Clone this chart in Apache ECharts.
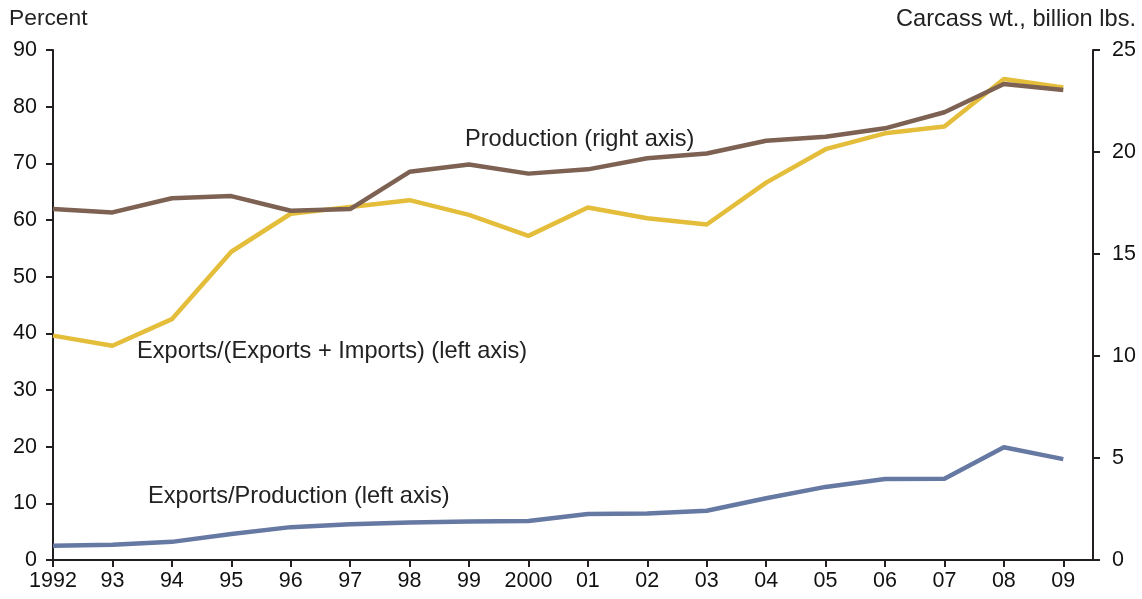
<!DOCTYPE html>
<html>
<head>
<meta charset="utf-8">
<script src="https://cdn.jsdelivr.net/npm/echarts@6/dist/echarts.min.js"></script>
<style>
html,body{margin:0;padding:0;background:#fff;}
#c{width:1142px;height:599px;}
</style>
</head>
<body>
<div id="c"></div>
<script>
const years = [1992,1993,1994,1995,1996,1997,1998,1999,2000,2001,2002,2003,2004,2005,2006,2007,2008,2009];
const exportShare = [39.6,37.8,42.5,54.4,61.1,62.3,63.5,60.9,57.2,62.2,60.3,59.2,66.6,72.5,75.3,76.5,84.9,83.4];
const exportsPerProduction = [2.5,2.7,3.2,4.6,5.8,6.3,6.6,6.8,6.9,8.1,8.2,8.7,10.9,12.9,14.3,14.35,19.9,17.8];
const production = [17.2,17.04,17.73,17.84,17.12,17.2,19.03,19.39,18.94,19.15,19.69,19.93,20.55,20.75,21.16,21.95,23.33,23.04];
const leftTicks = [0,10,20,30,40,50,60,70,80,90];
const rightTicks = [0,5,10,15,20,25];

const pair = arr => years.map((y,i)=>[y,arr[i]]);
const FONT = '"Liberation Sans", Arial, sans-serif';
const axisColor = '#231f20';
const TICKFS = 21.5;
const NOTEFS = 23.6;

const chart = echarts.init(document.getElementById('c'), null, {renderer:'canvas'});
chart.setOption({
  animation:false,
  backgroundColor:'#fff',
  grid:{left:53, right:49, top:50, bottom:39},
  xAxis:{
    type:'value', min:1992, max:2009.5,
    axisLine:{show:true, lineStyle:{color:axisColor, width:2}},
    axisTick:{show:true, inside:false, length:7, lineStyle:{color:axisColor, width:2}, customValues:years},
    axisLabel:{customValues:years, margin:10, color:'#111', fontSize:TICKFS, fontFamily:FONT,
      formatter:v=>{ v=Math.round(v); if(v===1992||v===2000) return String(v); return String(v%100).padStart(2,'0'); }},
    splitLine:{show:false}
  },
  yAxis:[
    {type:'value', min:0, max:90, interval:10, position:'left',
     axisLine:{show:true, lineStyle:{color:axisColor, width:2}},
     axisTick:{show:true, length:7, lineStyle:{color:axisColor, width:2}},
     axisLabel:{margin:16, color:'#111', fontSize:TICKFS, fontFamily:FONT},
     splitLine:{show:false}},
    {type:'value', min:0, max:25, interval:5, position:'right',
     axisLine:{show:true, lineStyle:{color:axisColor, width:2}},
     axisTick:{show:true, length:7, lineStyle:{color:axisColor, width:2}},
     axisLabel:{margin:19, color:'#111', fontSize:TICKFS, fontFamily:FONT},
     splitLine:{show:false}}
  ],
  series:[
    {name:'Exports/Production (left axis)', type:'line', yAxisIndex:0, data:pair(exportsPerProduction),
     showSymbol:false, lineStyle:{color:'#6679a3', width:4.5}, z:2},
    {name:'Exports/(Exports + Imports) (left axis)', type:'line', yAxisIndex:0, data:pair(exportShare),
     showSymbol:false, lineStyle:{color:'#e4bd3a', width:4.5}, z:3},
    {name:'Production (right axis)', type:'line', yAxisIndex:1, data:pair(production),
     showSymbol:false, lineStyle:{color:'#7d6152', width:4.5}, z:4}
  ],
  graphic:[
    {type:'text', left:9, top:7, style:{text:'Percent', fontSize:22.8, fontFamily:FONT, fill:'#222'}},
    {type:'text', right:6, top:7, style:{text:'Carcass wt., billion lbs.', fontSize:NOTEFS, fontFamily:FONT, fill:'#222'}},
    {type:'text', left:465, top:127, style:{text:'Production (right axis)', fontSize:NOTEFS, fontFamily:FONT, fill:'#222'}},
    {type:'text', left:137, top:339, style:{text:'Exports/(Exports + Imports) (left axis)', fontSize:NOTEFS, fontFamily:FONT, fill:'#222'}},
    {type:'text', left:148, top:484, style:{text:'Exports/Production (left axis)', fontSize:NOTEFS, fontFamily:FONT, fill:'#222'}}
  ]
});
</script>
</body>
</html>
